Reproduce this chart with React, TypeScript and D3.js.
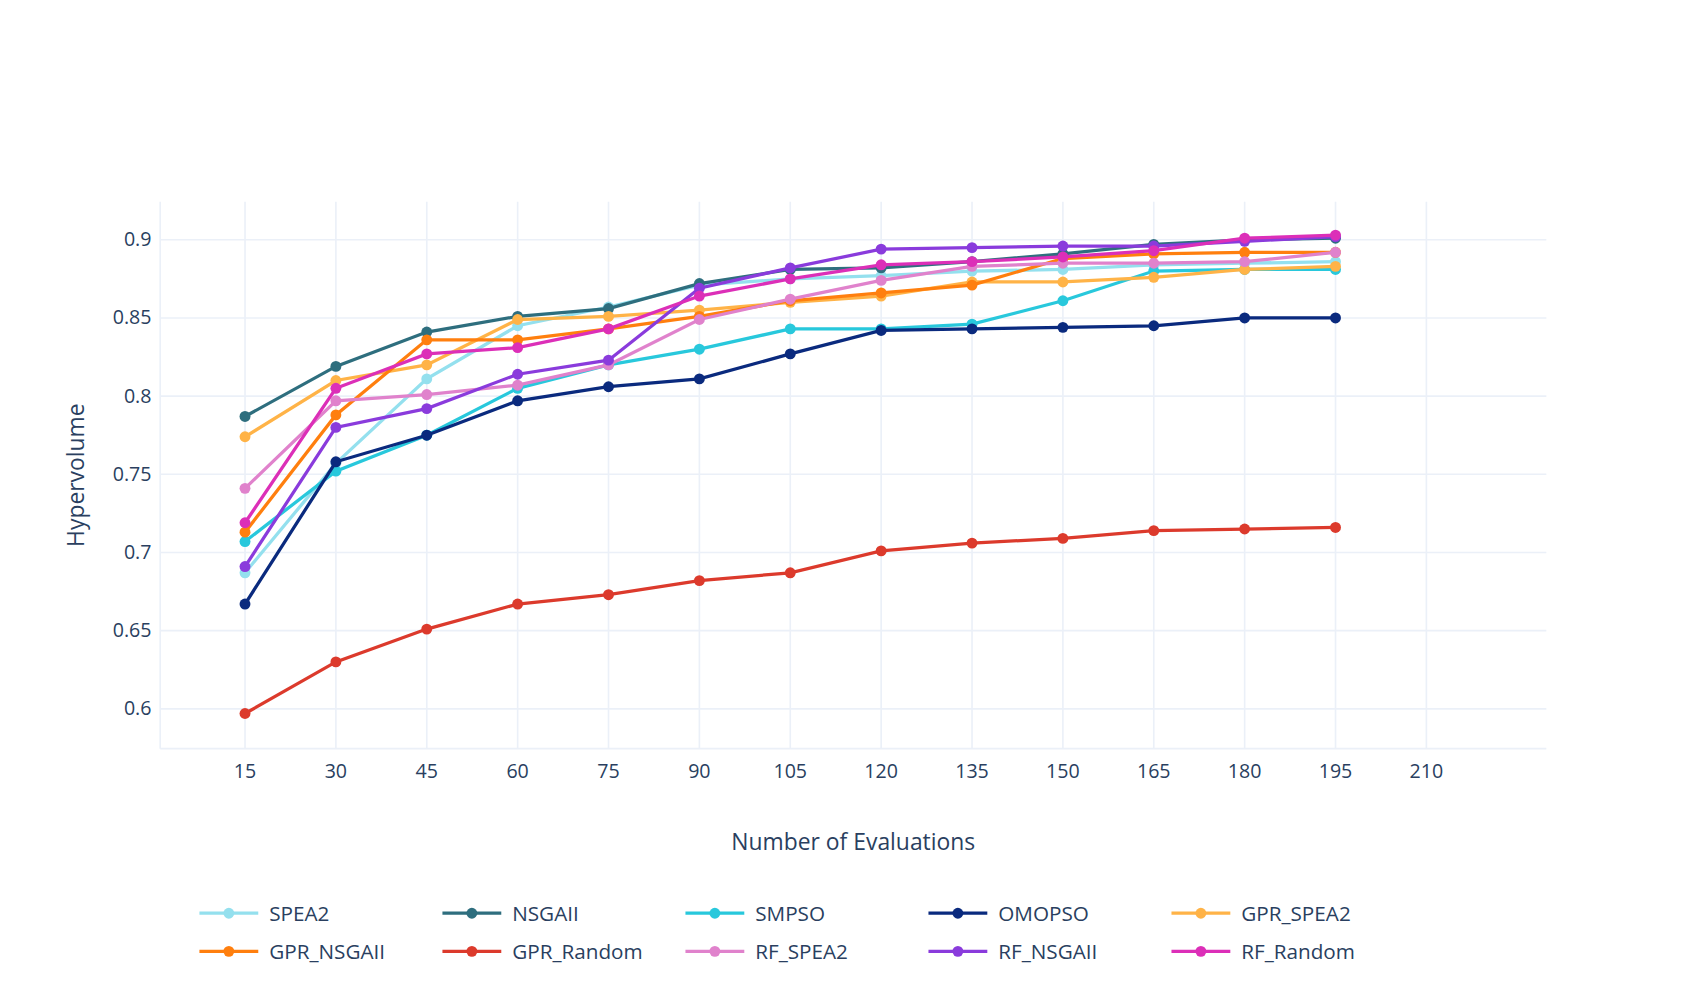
import * as d3 from "d3";

const evals = [15, 30, 45, 60, 75, 90, 105, 120, 135, 150, 165, 180, 195];
const xTicks = [15, 30, 45, 60, 75, 90, 105, 120, 135, 150, 165, 180, 195, 210];
const yTicks = [0.6, 0.65, 0.7, 0.75, 0.8, 0.85, 0.9];

const names = ["SPEA2", "NSGAII", "SMPSO", "OMOPSO", "GPR_SPEA2", "GPR_NSGAII", "GPR_Random", "RF_SPEA2", "RF_NSGAII", "RF_Random"];
const colors = ["#94e0ee", "#2e6e7e", "#28c8dc", "#0a2a7e", "#ffb347", "#ff7f0e", "#dc3a2c", "#e082cc", "#8a3bdc", "#dc2fb8"];

const spea2 = [0.687, 0.757, 0.811, 0.845, 0.857, 0.871, 0.875, 0.877, 0.88, 0.881, 0.884, 0.885, 0.886];
const nsgaii = [0.787, 0.819, 0.841, 0.851, 0.856, 0.872, 0.881, 0.882, 0.886, 0.891, 0.897, 0.9, 0.901];
const smpso = [0.707, 0.752, 0.775, 0.805, 0.82, 0.83, 0.843, 0.843, 0.846, 0.861, 0.88, 0.881, 0.881];
const omopso = [0.667, 0.758, 0.775, 0.797, 0.806, 0.811, 0.827, 0.842, 0.843, 0.844, 0.845, 0.85, 0.85];
const gprSpea2 = [0.774, 0.81, 0.82, 0.849, 0.851, 0.855, 0.86, 0.864, 0.873, 0.873, 0.876, 0.881, 0.883];
const gprNsgaii = [0.713, 0.788, 0.836, 0.836, 0.843, 0.851, 0.861, 0.866, 0.871, 0.888, 0.891, 0.892, 0.892];
const gprRandom = [0.597, 0.63, 0.651, 0.667, 0.673, 0.682, 0.687, 0.701, 0.706, 0.709, 0.714, 0.715, 0.716];
const rfSpea2 = [0.741, 0.797, 0.801, 0.807, 0.82, 0.849, 0.862, 0.874, 0.883, 0.885, 0.885, 0.886, 0.892];
const rfNsgaii = [0.691, 0.78, 0.792, 0.814, 0.823, 0.869, 0.882, 0.894, 0.895, 0.896, 0.896, 0.899, 0.902];
const rfRandom = [0.719, 0.805, 0.827, 0.831, 0.843, 0.864, 0.875, 0.884, 0.886, 0.889, 0.893, 0.901, 0.903];

const series = [spea2, nsgaii, smpso, omopso, gprSpea2, gprNsgaii, gprRandom, rfSpea2, rfNsgaii, rfRandom];

const W = 1560, H = 917.6;
const left = 147, right = 1419, top = 185, bottom = 687;
const font = "'Open Sans', sans-serif";
const ink = "#2a3f5f";
const grid = "#ebf0f8";

export default function App() {
  const x = d3.scaleLinear().domain([1, 229.8]).range([left, right]);
  const y = d3.scaleLinear().domain([0.5745, 0.9244]).range([bottom, top]);
  const line = d3.line<number>().x((_, i) => x(evals[i])).y((d) => y(d));

  return (
    <svg width={1700} height={1000} viewBox={`0 0 ${W} ${H}`}
      style={{ position: "absolute", left: 0, top: 0, background: "#fff", fontFamily: font }}>
      {xTicks.map((t) => (
        <line key={"gx" + t} x1={x(t)} x2={x(t)} y1={top} y2={bottom} stroke={grid} strokeWidth={1.5} />
      ))}
      {yTicks.map((t) => (
        <line key={"gy" + t} x1={left} x2={right} y1={y(t)} y2={y(t)} stroke={grid} strokeWidth={1.5} />
      ))}
      <line x1={left} x2={left} y1={top} y2={bottom} stroke={grid} strokeWidth={1.5} />
      <line x1={left} x2={right} y1={bottom} y2={bottom} stroke={grid} strokeWidth={1.5} />
      {xTicks.map((t) => (
        <text key={"tx" + t} x={x(t)} y={bottom + 27} textAnchor="middle" fontSize={18} fill={ink}>{t}</text>
      ))}
      {yTicks.map((t) => (
        <text key={"ty" + t} x={left - 8} y={y(t) + 6} textAnchor="end" fontSize={18} fill={ink}>{String(t)}</text>
      ))}
      <text x={(left + right) / 2} y={780} textAnchor="middle" fontSize={21} fill={ink}>Number of Evaluations</text>
      <text transform={`translate(77,${(top + bottom) / 2}) rotate(-90)`} textAnchor="middle" fontSize={21} fill={ink}>Hypervolume</text>
      {series.map((s, k) => (
        <g key={names[k]}>
          <path d={line(s) || ""} fill="none" stroke={colors[k]} strokeWidth={3} />
          {s.map((v, i) => (
            <circle key={i} cx={x(evals[i])} cy={y(v)} r={5} fill={colors[k]} />
          ))}
        </g>
      ))}
      {names.map((n, k) => {
        const lx = 183 + (k % 5) * 223;
        const ly = 838 + Math.floor(k / 5) * 35;
        return (
          <g key={"lg" + n}>
            <line x1={lx} x2={lx + 54} y1={ly} y2={ly} stroke={colors[k]} strokeWidth={3} />
            <circle cx={lx + 27} cy={ly} r={5} fill={colors[k]} />
            <text x={lx + 64} y={ly + 7} fontSize={19} fill={ink}>{n}</text>
          </g>
        );
      })}
    </svg>
  );
}
